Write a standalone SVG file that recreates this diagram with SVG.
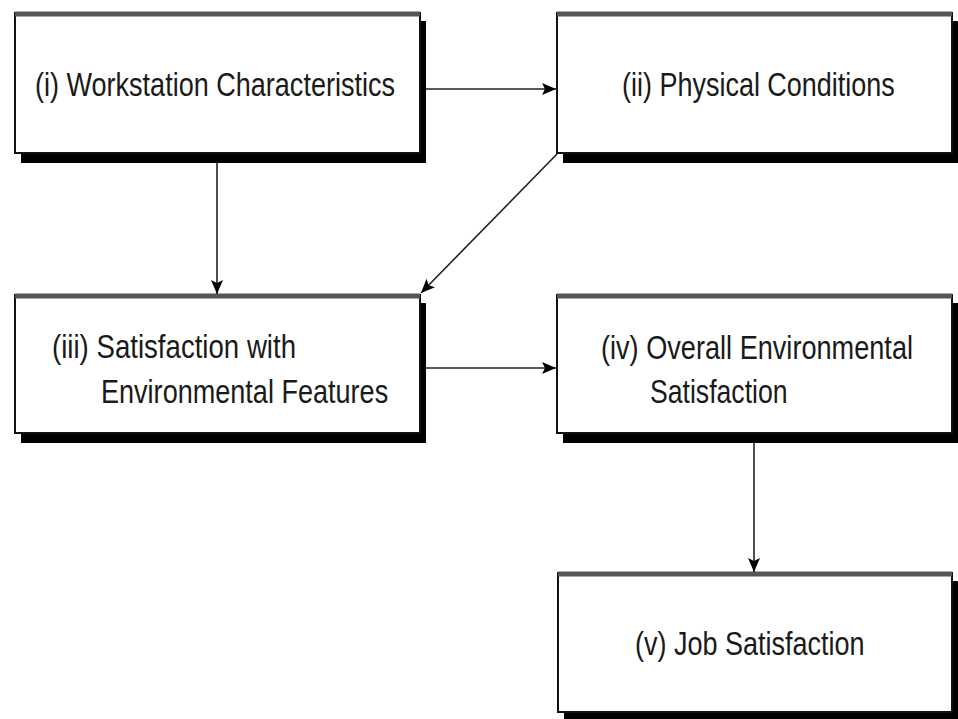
<svg xmlns="http://www.w3.org/2000/svg" width="958" height="719" viewBox="0 0 958 719">
<defs>
<style>
.shadow{fill:#000}
.box{fill:#fff;stroke:#111;stroke-width:2}
.top{stroke:#555;stroke-width:5}
.lbl{font-family:"Liberation Sans",Arial,sans-serif;font-size:34px;fill:#1a1a1a}
.conn{stroke:#222;stroke-width:1.6;fill:none;marker-end:url(#ah)}
</style>
<marker id="ah" markerUnits="userSpaceOnUse" markerWidth="16" markerHeight="14" refX="14" refY="6" orient="auto">
<path d="M0,0 L14,6 L0,12 L3,6 Z" fill="#000"/>
</marker>
</defs>
<rect width="958" height="719" fill="#fff"/>
<g id="node1">
<rect class="shadow" x="21" y="21" width="405" height="142"/>
<rect class="box" x="15" y="13" width="405" height="140"/>
<line class="top" x1="15" y1="14" x2="420" y2="14"/>
<text class="lbl" transform="translate(35,96) scale(0.8,1)" textLength="450" lengthAdjust="spacingAndGlyphs">(i) Workstation Characteristics</text>
</g>
<g id="node2">
<rect class="shadow" x="563" y="21" width="395" height="142"/>
<rect class="box" x="557" y="13" width="395" height="140"/>
<line class="top" x1="557" y1="14" x2="952" y2="14"/>
<text class="lbl" transform="translate(622,96) scale(0.8,1)" textLength="341" lengthAdjust="spacingAndGlyphs">(ii) Physical Conditions</text>
</g>
<g id="node3">
<rect class="shadow" x="21" y="303" width="405" height="140"/>
<rect class="box" x="15" y="295" width="405" height="138"/>
<line class="top" x1="15" y1="296" x2="420" y2="296"/>
<text class="lbl" transform="translate(52,358) scale(0.8,1)" textLength="305" lengthAdjust="spacingAndGlyphs">(iii)  Satisfaction with</text>
<text class="lbl" transform="translate(101,403) scale(0.8,1)" textLength="359" lengthAdjust="spacingAndGlyphs">Environmental Features</text>
</g>
<g id="node4">
<rect class="shadow" x="563" y="303" width="395" height="140"/>
<rect class="box" x="557" y="295" width="395" height="138"/>
<line class="top" x1="557" y1="296" x2="952" y2="296"/>
<text class="lbl" transform="translate(601,359) scale(0.8,1)" textLength="390" lengthAdjust="spacingAndGlyphs">(iv) Overall Environmental</text>
<text class="lbl" transform="translate(650,403) scale(0.8,1)" textLength="172" lengthAdjust="spacingAndGlyphs">Satisfaction</text>
</g>
<g id="node5">
<rect class="shadow" x="564" y="581" width="394" height="138"/>
<rect class="box" x="558" y="573" width="394" height="139"/>
<line class="top" x1="558" y1="574" x2="952" y2="574"/>
<text class="lbl" transform="translate(635,655) scale(0.8,1)" textLength="287" lengthAdjust="spacingAndGlyphs">(v) Job Satisfaction</text>
</g>
<g id="connectors">
<line class="conn" x1="426" y1="89" x2="556" y2="89"/>
<line class="conn" x1="217" y1="163" x2="217" y2="294"/>
<line class="conn" x1="557" y1="154" x2="421" y2="293"/>
<line class="conn" x1="426" y1="368" x2="556" y2="368"/>
<line class="conn" x1="754" y1="443" x2="754" y2="572"/>
</g>
</svg>
